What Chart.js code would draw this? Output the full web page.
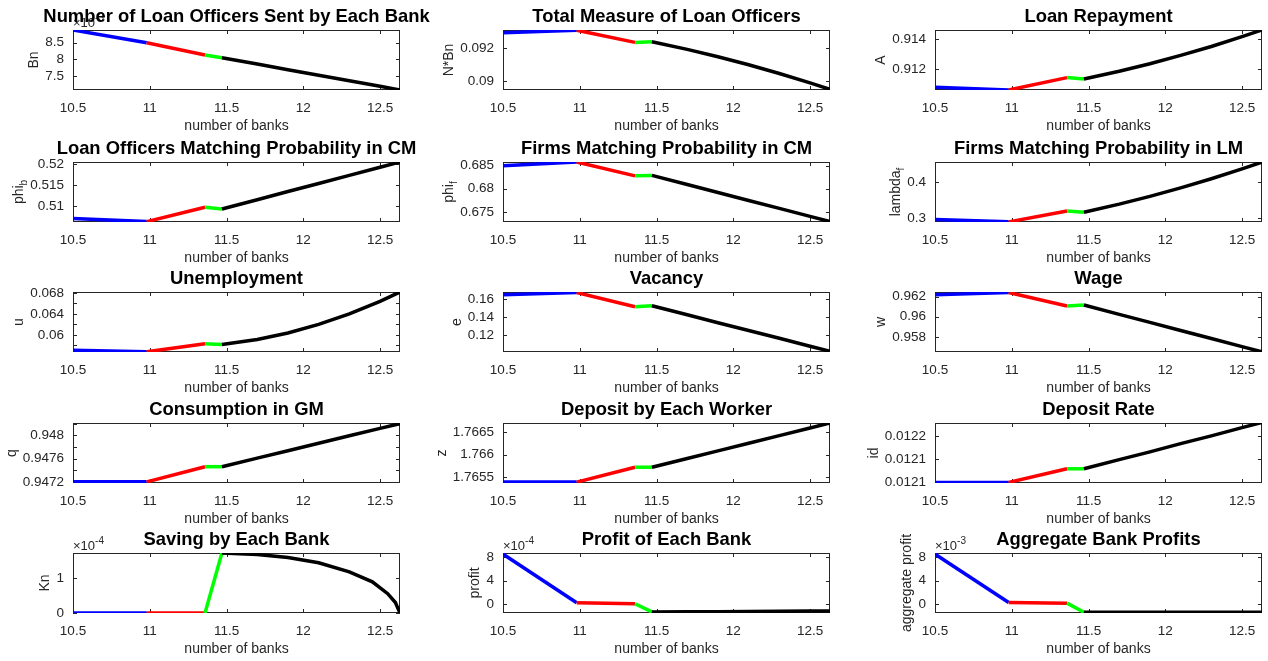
<!DOCTYPE html>
<html lang="en">
<head>
<meta charset="UTF-8">
<title>Banks comparative statics</title>
<script src="https://cdn.jsdelivr.net/npm/chart.js"></script>
<style>
    body { margin: 0; background: #fff; }
    #wrap { position: relative; width: 1268px; height: 661px; background: #fff; overflow: hidden; }
    .cell { position: absolute; }
</style>
</head>
<body>
<div id="wrap"></div>
<script>
    // x values (number of banks): regime boundaries, then points along the last stretch
    var nb = [10.5, 10.98, 11.36, 11.47, 11.7, 11.9, 12.1, 12.3, 12.5, 12.63];
    // saving has a sharper bend near the end, so it gets a few more points
    var knX = [10.5, 10.98, 11.36, 11.47, 11.7, 11.9, 12.1, 12.3, 12.45, 12.55, 12.6, 12.63];
    var xTicks = [10.5, 11, 11.5, 12, 12.5];
    var xMin = 10.5, xMax = 12.63;

    // series values, one per x point
    var bnVals = [0.00888, 0.0085, 0.00813, 0.00805, 0.00786, 0.00769, 0.00752, 0.00736, 0.00719, 0.00708];
    var nbnVals = [0.09296, 0.09312, 0.09237, 0.09241, 0.09194, 0.09149, 0.091, 0.09046, 0.08989, 0.08949];
    var aVals = [0.91081, 0.91063, 0.91145, 0.91136, 0.91187, 0.91237, 0.91292, 0.91351, 0.91416, 0.9146];
    var phibVals = [0.50707, 0.50634, 0.50976, 0.50934, 0.51155, 0.51348, 0.5154, 0.51733, 0.51925, 0.5205];
    var phifVals = [0.685, 0.6858, 0.6828, 0.6829, 0.68092, 0.67919, 0.67747, 0.67575, 0.67402, 0.6729];
    var lambdafVals = [0.2953, 0.289, 0.319, 0.3157, 0.3382, 0.3599, 0.3834, 0.4089, 0.4362, 0.455];
    var uVals = [0.05704, 0.05675, 0.05829, 0.05816, 0.05911, 0.06035, 0.06199, 0.06401, 0.06642, 0.0682];
    var eVals = [0.1645, 0.167, 0.1513, 0.1524, 0.1425, 0.1338, 0.1252, 0.1166, 0.1079, 0.1023];
    var wVals = [0.96217, 0.9624, 0.96106, 0.96116, 0.96024, 0.95944, 0.95864, 0.95784, 0.95704, 0.95652];
    var qVals = [0.9472, 0.9472, 0.94746, 0.94746, 0.947607, 0.947734, 0.947862, 0.94799, 0.948117, 0.9482];
    var zVals = [1.76539, 1.76539, 1.76572, 1.76572, 1.765914, 1.766083, 1.766252, 1.766421, 1.76659, 1.7667];
    var idVals = [0.0120993, 0.0120993, 0.012129, 0.012129, 0.012149, 0.012166, 0.012184, 0.012201, 0.012219, 0.01223];
    var knVals = [0, 0, 0, 1.71e-4, 1.67e-4, 1.58e-4, 1.43e-4, 1.17e-4, 0.89e-4, 0.55e-4, 0.3e-4, 0];
    var profitVals = [8.5e-4, 0.2e-4, 0.05e-4, -1.35e-4, -1.32e-4, -1.3e-4, -1.27e-4, -1.24e-4, -1.2e-4, -1.18e-4];
    var aggProfitVals = [8.5e-3, 0.25e-3, 0.15e-3, -1.4e-3, -1.4e-3, -1.4e-3, -1.4e-3, -1.39e-3, -1.39e-3, -1.39e-3];

    // y tick values and their labels ('' = tick mark only)
    var bnTicks = [0.0075, 0.008, 0.0085], bnLabels = ['7.5', '8', '8.5'];
    var nbnTicks = [0.09, 0.092], nbnLabels = ['0.09', '0.092'];
    var aTicks = [0.912, 0.914], aLabels = ['0.912', '0.914'];
    var phibTicks = [0.51, 0.515, 0.52], phibLabels = ['0.51', '0.515', '0.52'];
    var phifTicks = [0.675, 0.68, 0.685], phifLabels = ['0.675', '0.68', '0.685'];
    var lambdafTicks = [0.3, 0.4], lambdafLabels = ['0.3', '0.4'];
    var uTicks = [0.058, 0.06, 0.062, 0.064, 0.066, 0.068], uLabels = ['', '0.06', '', '0.064', '', '0.068'];
    var eTicks = [0.12, 0.14, 0.16], eLabels = ['0.12', '0.14', '0.16'];
    var wTicks = [0.958, 0.96, 0.962], wLabels = ['0.958', '0.96', '0.962'];
    var qTicks = [0.9472, 0.9474, 0.9476, 0.9478, 0.948, 0.9482], qLabels = ['0.9472', '', '0.9476', '', '0.948', ''];
    var zTicks = [1.7655, 1.766, 1.7665], zLabels = ['1.7655', '1.766', '1.7665'];
    var idTicks = [0.0121, 0.01215, 0.0122], idLabels = ['0.0121', '0.0121', '0.0122'];
    var knTicks = [0, 1e-4], knLabels = ['0', '1'];
    var profitTicks = [0, 4e-4, 8e-4], profitLabels = ['0', '4', '8'];
    var aggProfitTicks = [0, 4e-3, 8e-3], aggProfitLabels = ['0', '4', '8'];

    var panels = [
        { title: 'Number of Loan Officers Sent by Each Bank', ylab: 'Bn', ys: bnVals, min: 0.00708, max: 0.00888, ticks: bnTicks, labels: bnLabels, exp: '-3' },
        { title: 'Total Measure of Loan Officers', ylab: 'N*Bn', ys: nbnVals, min: 0.08945, max: 0.09313, ticks: nbnTicks, labels: nbnLabels },
        { title: 'Loan Repayment', ylab: 'A', ys: aVals, min: 0.91063, max: 0.9146, ticks: aTicks, labels: aLabels },
        { title: 'Loan Officers Matching Probability in CM', ylab: 'phi', sub: 'b', ys: phibVals, min: 0.50625, max: 0.5205, ticks: phibTicks, labels: phibLabels },
        { title: 'Firms Matching Probability in CM', ylab: 'phi', sub: 'f', ys: phifVals, min: 0.6728, max: 0.6858, ticks: phifTicks, labels: phifLabels },
        { title: 'Firms Matching Probability in LM', ylab: 'lambda', sub: 'f', ys: lambdafVals, min: 0.2886, max: 0.4554, ticks: lambdafTicks, labels: lambdafLabels },
        { title: 'Unemployment', ylab: 'u', ys: uVals, min: 0.05671, max: 0.0682, ticks: uTicks, labels: uLabels },
        { title: 'Vacancy', ylab: 'e', ys: eVals, min: 0.1015, max: 0.1676, ticks: eTicks, labels: eLabels },
        { title: 'Wage', ylab: 'w', ys: wVals, min: 0.95651, max: 0.96245, ticks: wTicks, labels: wLabels },
        { title: 'Consumption in GM', ylab: 'q', ys: qVals, min: 0.94718, max: 0.94821, ticks: qTicks, labels: qLabels },
        { title: 'Deposit by Each Worker', ylab: 'z', ys: zVals, min: 1.76537, max: 1.7667, ticks: zTicks, labels: zLabels },
        { title: 'Deposit Rate', ylab: 'id', ys: idVals, min: 0.012098, max: 0.012229, ticks: idTicks, labels: idLabels },
        { title: 'Saving by Each Bank', ylab: 'Kn', xs: knX, ys: knVals, min: 0, max: 1.71e-4, ticks: knTicks, labels: knLabels, exp: '-4' },
        { title: 'Profit of Each Bank', ylab: 'profit', ys: profitVals, min: -1.53e-4, max: 8.68e-4, ticks: profitTicks, labels: profitLabels, exp: '-4' },
        { title: 'Aggregate Bank Profits', ylab: 'aggregate profit', ys: aggProfitVals, min: -1.53e-3, max: 8.68e-3, ticks: aggProfitTicks, labels: aggProfitLabels, exp: '-3' }
    ];

    var colLeft = [73, 503, 935];
    var rowTop = [30, 162, 292, 423, 553];
    var boxW = 327, boxH = 60;
    var padL = 80, padT = 30, padB = 45, padR = 40;
    var axisGray = '#262626';
    var fontName = '"Liberation Sans", Arial, sans-serif';
    var tickSize = 13.5;

    function seg(xs, ys, i0, i1) {
        var pts = [];
        for (var i = i0; i <= i1; i++) pts.push({ x: xs[i], y: ys[i] });
        return pts;
    }

    // box, inward tick marks, rotated y label (with subscript), the x10^n note and the title
    var matlabAxes = {
        id: 'matlabAxes',
        beforeDraw: function (chart, args, opts) {
            if (!opts.exp) return;
            var ctx = chart.ctx, a = chart.chartArea;
            ctx.save();
            ctx.fillStyle = axisGray;
            ctx.textBaseline = 'alphabetic';
            ctx.textAlign = 'left';
            ctx.font = '13px ' + fontName;
            var base = '\u00d710';
            ctx.fillText(base, a.left, a.top - 3);
            var w = ctx.measureText(base).width;
            ctx.font = '10px ' + fontName;
            ctx.fillText(opts.exp, a.left + w, a.top - 9);
            ctx.restore();
        },
        beforeDatasetsDraw: function (chart, args, opts) {
            var ctx = chart.ctx, a = chart.chartArea, sx = chart.scales.x, sy = chart.scales.y;
            ctx.save();
            ctx.strokeStyle = axisGray;
            ctx.lineWidth = 1;
            ctx.strokeRect(a.left + 0.5, a.top + 0.5, a.right - a.left - 1, a.bottom - a.top - 1);
            ctx.beginPath();
            sx.ticks.forEach(function (t) {
                var px = Math.round(sx.getPixelForValue(t.value)) + 0.5;
                ctx.moveTo(px, a.bottom); ctx.lineTo(px, a.bottom - 4);
                ctx.moveTo(px, a.top); ctx.lineTo(px, a.top + 4);
            });
            sy.ticks.forEach(function (t) {
                var py = Math.round(sy.getPixelForValue(t.value)) + 0.5;
                ctx.moveTo(a.left, py); ctx.lineTo(a.left + 4, py);
                ctx.moveTo(a.right, py); ctx.lineTo(a.right - 4, py);
            });
            ctx.stroke();

            // y label placed just left of the widest tick label
            ctx.font = tickSize + 'px ' + fontName;
            var maxW = 0;
            opts.labels.forEach(function (l) { maxW = Math.max(maxW, ctx.measureText(l).width); });
            var cx = a.left - 9 - maxW - 4 - 7;
            var cy = (a.top + a.bottom) / 2;
            ctx.translate(cx, cy);
            ctx.rotate(-Math.PI / 2);
            ctx.fillStyle = axisGray;
            ctx.textBaseline = 'middle';
            ctx.textAlign = 'left';
            ctx.font = '14px ' + fontName;
            var mw = ctx.measureText(opts.ylab).width;
            var sw = 0;
            if (opts.sub) {
                ctx.font = '10px ' + fontName;
                sw = ctx.measureText(opts.sub).width;
            }
            var start = -(mw + sw) / 2;
            ctx.font = '14px ' + fontName;
            ctx.fillText(opts.ylab, start, 0);
            if (opts.sub) {
                ctx.font = '10px ' + fontName;
                ctx.fillText(opts.sub, start + mw, 5);
            }
            ctx.restore();
        },
        afterDraw: function (chart, args, opts) {
            // title centred over the plot box, wider than the box if it needs to be
            var ctx = chart.ctx, a = chart.chartArea;
            ctx.save();
            ctx.fillStyle = '#000';
            ctx.textAlign = 'center';
            ctx.textBaseline = 'middle';
            ctx.font = 'bold 18.4px ' + fontName;
            ctx.fillText(opts.title, (a.left + a.right) / 2, a.top - 13);
            ctx.restore();
        }
    };

    var wrap = document.getElementById('wrap');

    panels.forEach(function (p, k) {
        var col = k % 3, row = Math.floor(k / 3);
        var xs = p.xs || nb;
        var last = xs.length - 1;
        var div = document.createElement('div');
        div.className = 'cell';
        div.style.left = (colLeft[col] - padL) + 'px';
        div.style.top = (rowTop[row] - padT) + 'px';
        div.style.width = (boxW + padL + padR) + 'px';
        div.style.height = (boxH + padT + padB) + 'px';
        var canvas = document.createElement('canvas');
        div.appendChild(canvas);
        wrap.appendChild(div);

        var common = { fill: false, pointRadius: 0, borderWidth: 3.5, tension: 0 };
        var datasets = [
            Object.assign({ data: seg(xs, p.ys, 0, 1), borderColor: '#0000ff', order: 4 }, common),
            Object.assign({ data: seg(xs, p.ys, 1, 2), borderColor: '#ff0000', order: 3 }, common),
            Object.assign({ data: seg(xs, p.ys, 2, 3), borderColor: '#00ff00', order: 2 }, common),
            Object.assign({ data: seg(xs, p.ys, 3, last), borderColor: '#000000', order: 1 }, common)
        ];

        new Chart(canvas.getContext('2d'), {
            type: 'line',
            data: { datasets: datasets },
            plugins: [matlabAxes],
            options: {
                responsive: true,
                maintainAspectRatio: false,
                animation: false,
                layout: { padding: { left: 0, right: padR, top: padT, bottom: 0 } },
                plugins: {
                    legend: { display: false },
                    tooltip: { enabled: false },
                    title: { display: false },
                    matlabAxes: { title: p.title, ylab: p.ylab, sub: p.sub, labels: p.labels, exp: p.exp }
                },
                scales: {
                    x: {
                        type: 'linear',
                        min: xMin,
                        max: xMax,
                        afterBuildTicks: function (s) { s.ticks = xTicks.map(function (v) { return { value: v }; }); },
                        afterFit: function (s) { s.height = padB; },
                        grid: { display: false, drawTicks: false },
                        border: { display: false },
                        ticks: {
                            color: axisGray,
                            padding: 10,
                            autoSkip: false,
                            maxRotation: 0,
                            font: { family: fontName, size: tickSize },
                            callback: function (v) { return String(v); }
                        },
                        title: {
                            display: true,
                            text: 'number of banks',
                            color: axisGray,
                            font: { family: fontName, size: 14 },
                            padding: { top: 0, bottom: 0 }
                        }
                    },
                    y: {
                        type: 'linear',
                        min: p.min,
                        max: p.max,
                        afterBuildTicks: function (s) { s.ticks = p.ticks.map(function (v) { return { value: v }; }); },
                        afterFit: function (s) { s.width = padL; },
                        grid: { display: false, drawTicks: false },
                        border: { display: false },
                        ticks: {
                            color: axisGray,
                            padding: 9,
                            autoSkip: false,
                            font: { family: fontName, size: tickSize },
                            callback: function (v, i) { return p.labels[i]; }
                        }
                    }
                }
            }
        });
    });
</script>
</body>
</html>
